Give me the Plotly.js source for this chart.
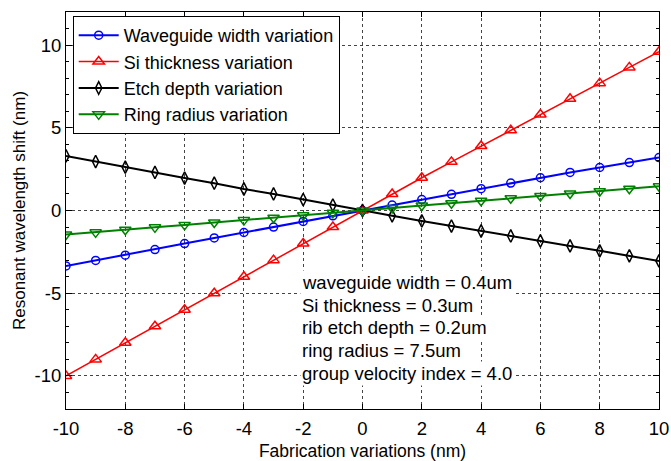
<!DOCTYPE html>
<html>
<head>
<meta charset="utf-8">
<script src="https://cdn.plot.ly/plotly-3.0.1.min.js"></script>
<style>html,body{margin:0;padding:0;background:#fff;}#chart{width:671px;height:461px;}</style>
</head>
<body>
<div id="chart"></div>
<script>
var variations = [-10,-9,-8,-7,-6,-5,-4,-3,-2,-1,0,1,2,3,4,5,6,7,8,9,10];
var waveguideWidth = [-3.35,-3.02,-2.7,-2.36,-2.0,-1.66,-1.33,-1.0,-0.66,-0.32,0,0.33,0.66,0.98,1.32,1.66,1.98,2.3,2.6,2.9,3.2];
var siThickness = [-10,-9,-8,-7,-6,-5,-4,-3,-2,-1,0,1.0,1.98,2.94,3.9,4.85,5.8,6.75,7.7,8.65,9.6];
var etchDepth = [3.3,2.96,2.62,2.3,1.96,1.65,1.3,1.0,0.66,0.33,0,-0.32,-0.63,-0.94,-1.24,-1.54,-1.84,-2.14,-2.44,-2.74,-3.05];
var ringRadius = [-1.45,-1.32,-1.16,-1.02,-0.87,-0.73,-0.58,-0.44,-0.29,-0.14,0,0.15,0.3,0.44,0.59,0.74,0.88,1.03,1.17,1.32,1.46];
var seriesNames = ["Waveguide width variation","Si thickness variation","Etch depth variation","Ring radius variation"];
var noteLines = ["waveguide width = 0.4um","Si thickness = 0.3um","rib etch depth = 0.2um","ring radius = 7.5um","group velocity index = 4.0"];
var noteY = [-4.36,-5.73,-7.09,-8.46,-9.83];
var xTicks = [-10,-8,-6,-4,-2,0,2,4,6,8,10];
var xTickLabels = ["-10","-8","-6","-4","-2","0","2","4","6","8","10"];
var yTicks = [-10,-5,0,5,10];
var yTickLabels = ["-10","-5","0","5","10"];

var FONT = "Liberation Sans, Arial, Helvetica, sans-serif";
function tr(y, name, color, symbol, size, lw){
  return {x: variations, y: y, name: name, type: 'scatter', mode: 'lines+markers',
    line: {color: color, width: lw},
    marker: {symbol: symbol, size: size, color: color, line: {color: color, width: 1.5}}};
}
var data = [
  tr(waveguideWidth, seriesNames[0], '#0000ff', 'circle-open', 8, 2),
  tr(siThickness, seriesNames[1], '#ff0000', 'triangle-up-open', 10, 1.5),
  tr(etchDepth, seriesNames[2], '#000000', 'diamond-tall-open', 9, 2),
  tr(ringRadius, seriesNames[3], '#008000', 'triangle-down-open', 10, 2)
];
var annotations = noteLines.map(function(t, i){
  return {x: -2.1, y: noteY[i], xref: 'x', yref: 'y', text: t, showarrow: false,
    xanchor: 'left', yanchor: 'middle', align: 'left',
    font: {family: FONT, size: 18.5, color: '#000'}, bgcolor: '#fff'};
});
var layout = {
  width: 671, height: 461,
  margin: {l: 66, r: 12, t: 12, b: 52},
  paper_bgcolor: '#fff', plot_bgcolor: '#fff',
  font: {family: FONT, color: '#000'},
  showlegend: true,
  legend: {x: 0.0113, y: 0.99, xanchor: 'left', yanchor: 'top',
    bgcolor: '#fff', bordercolor: '#000', borderwidth: 1,
    font: {family: FONT, size: 18, color: '#000'}, itemwidth: 40},
  xaxis: {range: [-10, 10], tickvals: xTicks, ticktext: xTickLabels, ticks: 'inside', ticklen: 5,
    tickcolor: '#000', showline: true, linecolor: '#000', linewidth: 1, mirror: 'ticks',
    showgrid: true, gridcolor: '#444', griddash: 'dot', gridwidth: 1, zeroline: false,
    tickfont: {family: FONT, size: 18.5}, ticklabelstandoff: 3,
    title: {text: 'Fabrication variations (nm)', font: {family: FONT, size: 17.5}, standoff: 10}},
  yaxis: {range: [-12, 12], tickvals: yTicks, ticktext: yTickLabels, ticks: 'inside', ticklen: 6,
    tickcolor: '#000', showline: true, linecolor: '#000', linewidth: 1, mirror: 'ticks',
    showgrid: true, gridcolor: '#444', griddash: 'dot', gridwidth: 1, zeroline: false,
    minor: {dtick: 1, ticks: 'inside', ticklen: 3, tickcolor: '#000', showgrid: false},
    tickfont: {family: FONT, size: 18.5},
    title: {text: 'Resonant wavelength shift (nm)', font: {family: FONT, size: 17}, standoff: 4}},
  annotations: annotations
};
Plotly.newPlot('chart', data, layout, {displayModeBar: false, staticPlot: true});
</script>
</body>
</html>
